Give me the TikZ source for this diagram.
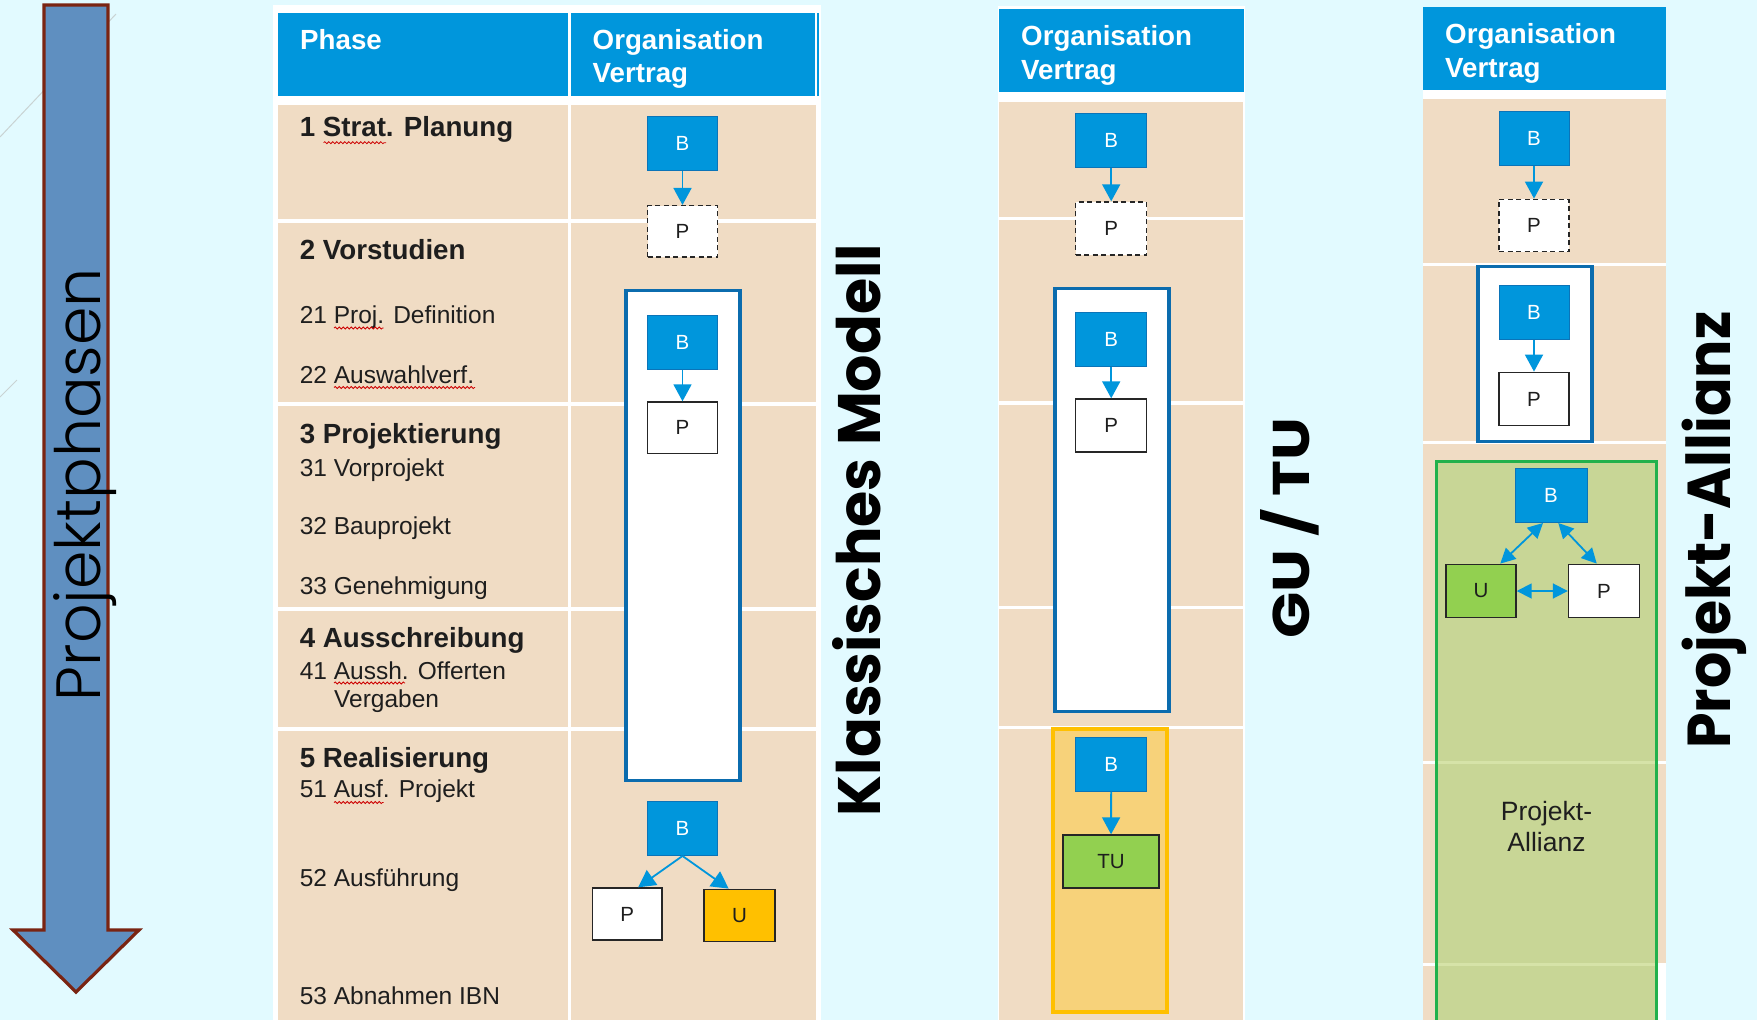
\documentclass[tikz,border=0pt]{standalone}
\usepackage{fontspec}
\usepackage{graphicx}
\setmainfont{Liberation Sans}
\newfontfamily\poppins{Poppins}
\newfontfamily\poppinslight{Poppins}[UprightFont=* Light]
\usetikzlibrary{arrows.meta,calc,decorations.pathmorphing}
\definecolor{bgc}{HTML}{E2FAFF}
\definecolor{beige}{HTML}{F0DCC4}
\definecolor{hblue}{HTML}{0096DC}
\definecolor{frameblue}{HTML}{0B6CAE}
\definecolor{bedge}{HTML}{0B74B8}
\definecolor{arrowfill}{HTML}{5F8FC0}
\definecolor{arrowedge}{HTML}{7A2412}
\definecolor{orfill}{HTML}{F7D27A}
\definecolor{oredge}{HTML}{FFC000}
\definecolor{ufill}{HTML}{FFC000}
\definecolor{tugreen}{HTML}{92D050}
\definecolor{allfill}{HTML}{C8D696}
\definecolor{alledge}{HTML}{22B14C}
\definecolor{allline}{HTML}{D6E3A8}
\definecolor{txt}{HTML}{1E1E1E}
\definecolor{decogray}{HTML}{C9D3D3}
\begin{document}
\begin{tikzpicture}[x=1pt,y=-1pt,
  bbox/.style={draw=bedge, line width=1pt, fill=hblue, text=white, minimum width=70pt, minimum height=54pt, inner sep=0pt, font=\fontsize{20.5}{20.5}\selectfont},
  pbox/.style={draw=black!85, line width=1.4pt, fill=white, text=txt, minimum width=70pt, minimum height=52pt, inner sep=0pt, font=\fontsize{20.5}{20.5}\selectfont},
  pdash/.style={pbox, dash pattern=on 5pt off 3.5pt},
  frm/.style={draw=frameblue, line width=3.5pt, fill=white, inner sep=0pt},
  conn/.style={draw=hblue, line width=1.8pt, -{Triangle[length=17pt,width=18pt]}},
  dconn/.style={draw=hblue, line width=1.8pt, {Triangle[length=15pt,width=15pt]}-{Triangle[length=15pt,width=15pt]}},
  htext/.style={anchor=base west, inner sep=0pt, text=white, font=\fontsize{27.7}{33}\selectfont\bfseries},
  ptitle/.style={anchor=base west, inner sep=0pt, text=txt, font=\fontsize{27.7}{30}\selectfont\bfseries},
  psub/.style={anchor=base west, inner sep=0pt, text=txt, font=\fontsize{24.5}{28}\selectfont},
  vtitle/.style={anchor=base, rotate=90, inner sep=0pt, text=black},
  wave/.style={draw=red!80!black, line width=0.8pt, decorate, decoration={snake, segment length=4pt, amplitude=1pt}},
  decoline/.style={draw=decogray, line width=1pt}
]
\useasboundingbox (0,0) rectangle (1757,1020);
\clip (0,0) rectangle (1757,1020);
\fill[bgc] (0,0) rectangle (1757,1020);
% decorative lines
\draw[decoline] (0,137) -- (116,14);
\draw[decoline] (0,397) -- (17,380);
% big phase arrow
\draw[fill=arrowfill, draw=arrowedge, line width=3.2pt, line join=miter]
  (44,5) -- (108,5) -- (108,930) -- (139,930) -- (76,992) -- (13,930) -- (44,930) -- cycle;
\node[vtitle] (pp) at (100,484.5) {\resizebox{433pt}{47pt}{\poppinslight Projektphasen}};

% ===== Table 1 =====
\fill[white] (273,5) rectangle (821,1020);
\fill[hblue] (278,12.7) rectangle (567.5,95.7);
\fill[hblue] (571,12.7) rectangle (814.6,95.7);
\fill[hblue] (816.5,12.7) rectangle (818.5,95.7);
\foreach \ya/\yb in {105/219, 223/402, 406/607, 611/726.5, 730.5/1025}{
  \fill[beige] (278,\ya) rectangle (567.5,\yb);
  \fill[beige] (571,\ya) rectangle (815.5,\yb);
}
\node[htext] (t1h1) at (300,49.3) {Phase};
\node[htext] (t1h2) at (592.5,49.3) {Organisation};
\node[htext] (t1h3) at (592.5,82) {Vertrag};

\node[ptitle] (r1) at (299.6,136.7) {1 Strat. Planung};
\node[ptitle] (r2) at (299.6,259.3) {2 Vorstudien};
\node[psub] (r21) at (299.6,323.3) {21 Proj. Definition};
\node[psub] (r22) at (299.6,383.3) {22 Auswahlverf.};
\node[ptitle] (r3) at (299.6,443.5) {3 Projektierung};
\node[psub] (r31) at (299.6,476) {31 Vorprojekt};
\node[psub] (r32) at (299.6,534.4) {32 Bauprojekt};
\node[psub] (r33) at (299.6,594.5) {33 Genehmigung};
\node[ptitle] (r4) at (299.6,647) {4 Ausschreibung};
\node[psub] (r41) at (299.6,679.6) {41 Aussh. Offerten};
\node[psub] (r41b) at (334,707) {Vergaben};
\node[ptitle] (r5) at (299.6,767) {5 Realisierung};
\node[psub] (r51) at (299.6,797) {51 Ausf. Projekt};
\node[psub] (r52) at (299.6,886) {52 Ausführung};
\node[psub] (r53) at (299.6,1004) {53 Abnahmen IBN};
% spell-check underlines
\draw[wave] (323.6,142.7) -- (386,142.7);
\draw[wave] (334,328) -- (383.6,328);
\draw[wave] (334,387.5) -- (475,387.5);
\draw[wave] (334,683) -- (405,683);
\draw[wave] (334,802.5) -- (383.6,802.5);

% diagram Klassisches Modell
\node[bbox] (kB1) at (682.5,143.7) {B};
\node[pdash, minimum height=51.3pt] (kP1) at (682.5,231.3) {P};
\draw[conn] (kB1) -- (kP1);
\node[frm, minimum width=114pt, minimum height=489.7pt] (kF) at (683,535.55) {};
\node[bbox] (kB2) at (682.5,342) {B};
\node[pbox, minimum height=51.4pt] (kP2) at (682.5,427.7) {P};
\draw[conn] (kB2) -- (kP2);
\node[bbox, minimum height=53.5pt] (kB3) at (682.5,828.7) {B};
\node[pbox, minimum width=69.5pt] (kP3) at (627.2,914) {P};
\node[pbox, minimum width=71pt, fill=ufill] (kU3) at (739.5,915.3) {U};
\draw[conn] (kB3.south) -- ($(kP3.north)!0.31!(kP3.north east)$);
\draw[conn] (kB3.south) -- ($(kU3.north)!0.3!(kU3.north west)$);

\node[vtitle] (tK) at (880,530) {\resizebox{572pt}{48pt}{\poppins\bfseries Klassisches Modell}};

% ===== Table 2 =====
\fill[white] (998,6) rectangle (1245,1020);
\fill[hblue] (999,9.3) rectangle (1244,91.7);
\foreach \ya/\yb in {101.7/216.5, 219.5/401, 404.5/605.5, 608.5/725.5, 728.5/1025}{
  \fill[beige] (999,\ya) rectangle (1243,\yb);
}
\node[htext] (t2h2) at (1021,45) {Organisation};
\node[htext] (t2h3) at (1021,79) {Vertrag};
\node[bbox, minimum width=71pt] (gB1) at (1111.2,140.8) {B};
\node[pdash, minimum width=71pt, minimum height=53pt] (gP1) at (1111.2,228.5) {P};
\draw[conn] (gB1) -- (gP1);
\node[frm, minimum width=114pt, minimum height=423.4pt] (gF) at (1112,500) {};
\node[bbox, minimum width=71pt] (gB2) at (1111.2,339.7) {B};
\node[pbox, minimum width=71pt, minimum height=53pt] (gP2) at (1111.2,425.5) {P};
\draw[conn] (gB2) -- (gP2);
\node[draw=oredge, line width=4pt, fill=orfill, inner sep=0pt, minimum width=114pt, minimum height=282.7pt] (gO) at (1110,870.35) {};
\node[bbox, minimum width=71pt] (gB3) at (1111.2,764) {B};
\node[pbox, minimum width=96pt, minimum height=53pt, fill=tugreen] (gTU) at (1111,861.5) {TU};
\draw[conn] (gB3) -- (gTU);

\node[vtitle] (tG) at (1309,528) {\resizebox{221pt}{49pt}{\poppins\bfseries GU / TU}};

% ===== Table 3 =====
\fill[white] (1423,7.3) rectangle (1666,1020);
\fill[hblue] (1423,7.3) rectangle (1666,90);
\foreach \ya/\yb in {99.3/262.5, 266/441, 444/760.5, 763.5/962.5}{
  \fill[beige] (1423,\ya) rectangle (1666,\yb);
}
\fill[beige] (1423,965.5) rectangle (1440,1025);
\node[htext] (t3h2) at (1445,43) {Organisation};
\node[htext] (t3h3) at (1445,77) {Vertrag};
\node[bbox] (aB1) at (1534,138) {B};
\node[pdash, minimum height=52.4pt] (aP1) at (1534,225.5) {P};
\draw[conn] (aB1) -- (aP1);
\node[frm, minimum width=114pt, minimum height=175pt] (aF) at (1535,354.2) {};
\node[bbox, minimum height=53.6pt] (aB2) at (1534,312.5) {B};
\node[pbox, minimum height=53.4pt] (aP2) at (1534,399) {P};
\draw[conn] (aB2) -- (aP2);
\node[draw=alledge, line width=3pt, fill=allfill, inner sep=0pt, minimum width=220.7pt, minimum height=580pt] (aG) at (1546.35,751) {};
\draw[allline, line width=3pt] (1437.5,762) -- (1655,762);
\draw[allline, line width=3pt] (1437.5,964) -- (1655,964);
\node[bbox, minimum width=72pt] (aB3) at (1551,495.5) {B};
\node[pbox, minimum height=53.4pt, fill=tugreen] (aU) at (1481,591) {U};
\node[pbox, minimum width=71pt, minimum height=53.4pt] (aP) at (1604,591) {P};
\draw[dconn] ($(aB3.south)!0.22!(aB3.south west)$) -- ($(aU.north)!0.54!(aU.north east)$);
\draw[dconn] ($(aB3.south)!0.2!(aB3.south east)$) -- ($(aP.north)!0.2!(aP.north west)$);
\draw[dconn] (aU) -- (aP);
\node[anchor=base, inner sep=0pt, text=txt, font=\fontsize{26.5}{30}\selectfont] (aT1) at (1546.5,820) {Projekt-};
\node[anchor=base, inner sep=0pt, text=txt, font=\fontsize{26.5}{30}\selectfont] (aT2) at (1546.5,851.7) {Allianz};

\node[vtitle] (tA) at (1730,530) {\resizebox{437pt}{48.5pt}{\poppins\bfseries Projekt-Allianz}};
\end{tikzpicture}
\end{document}
